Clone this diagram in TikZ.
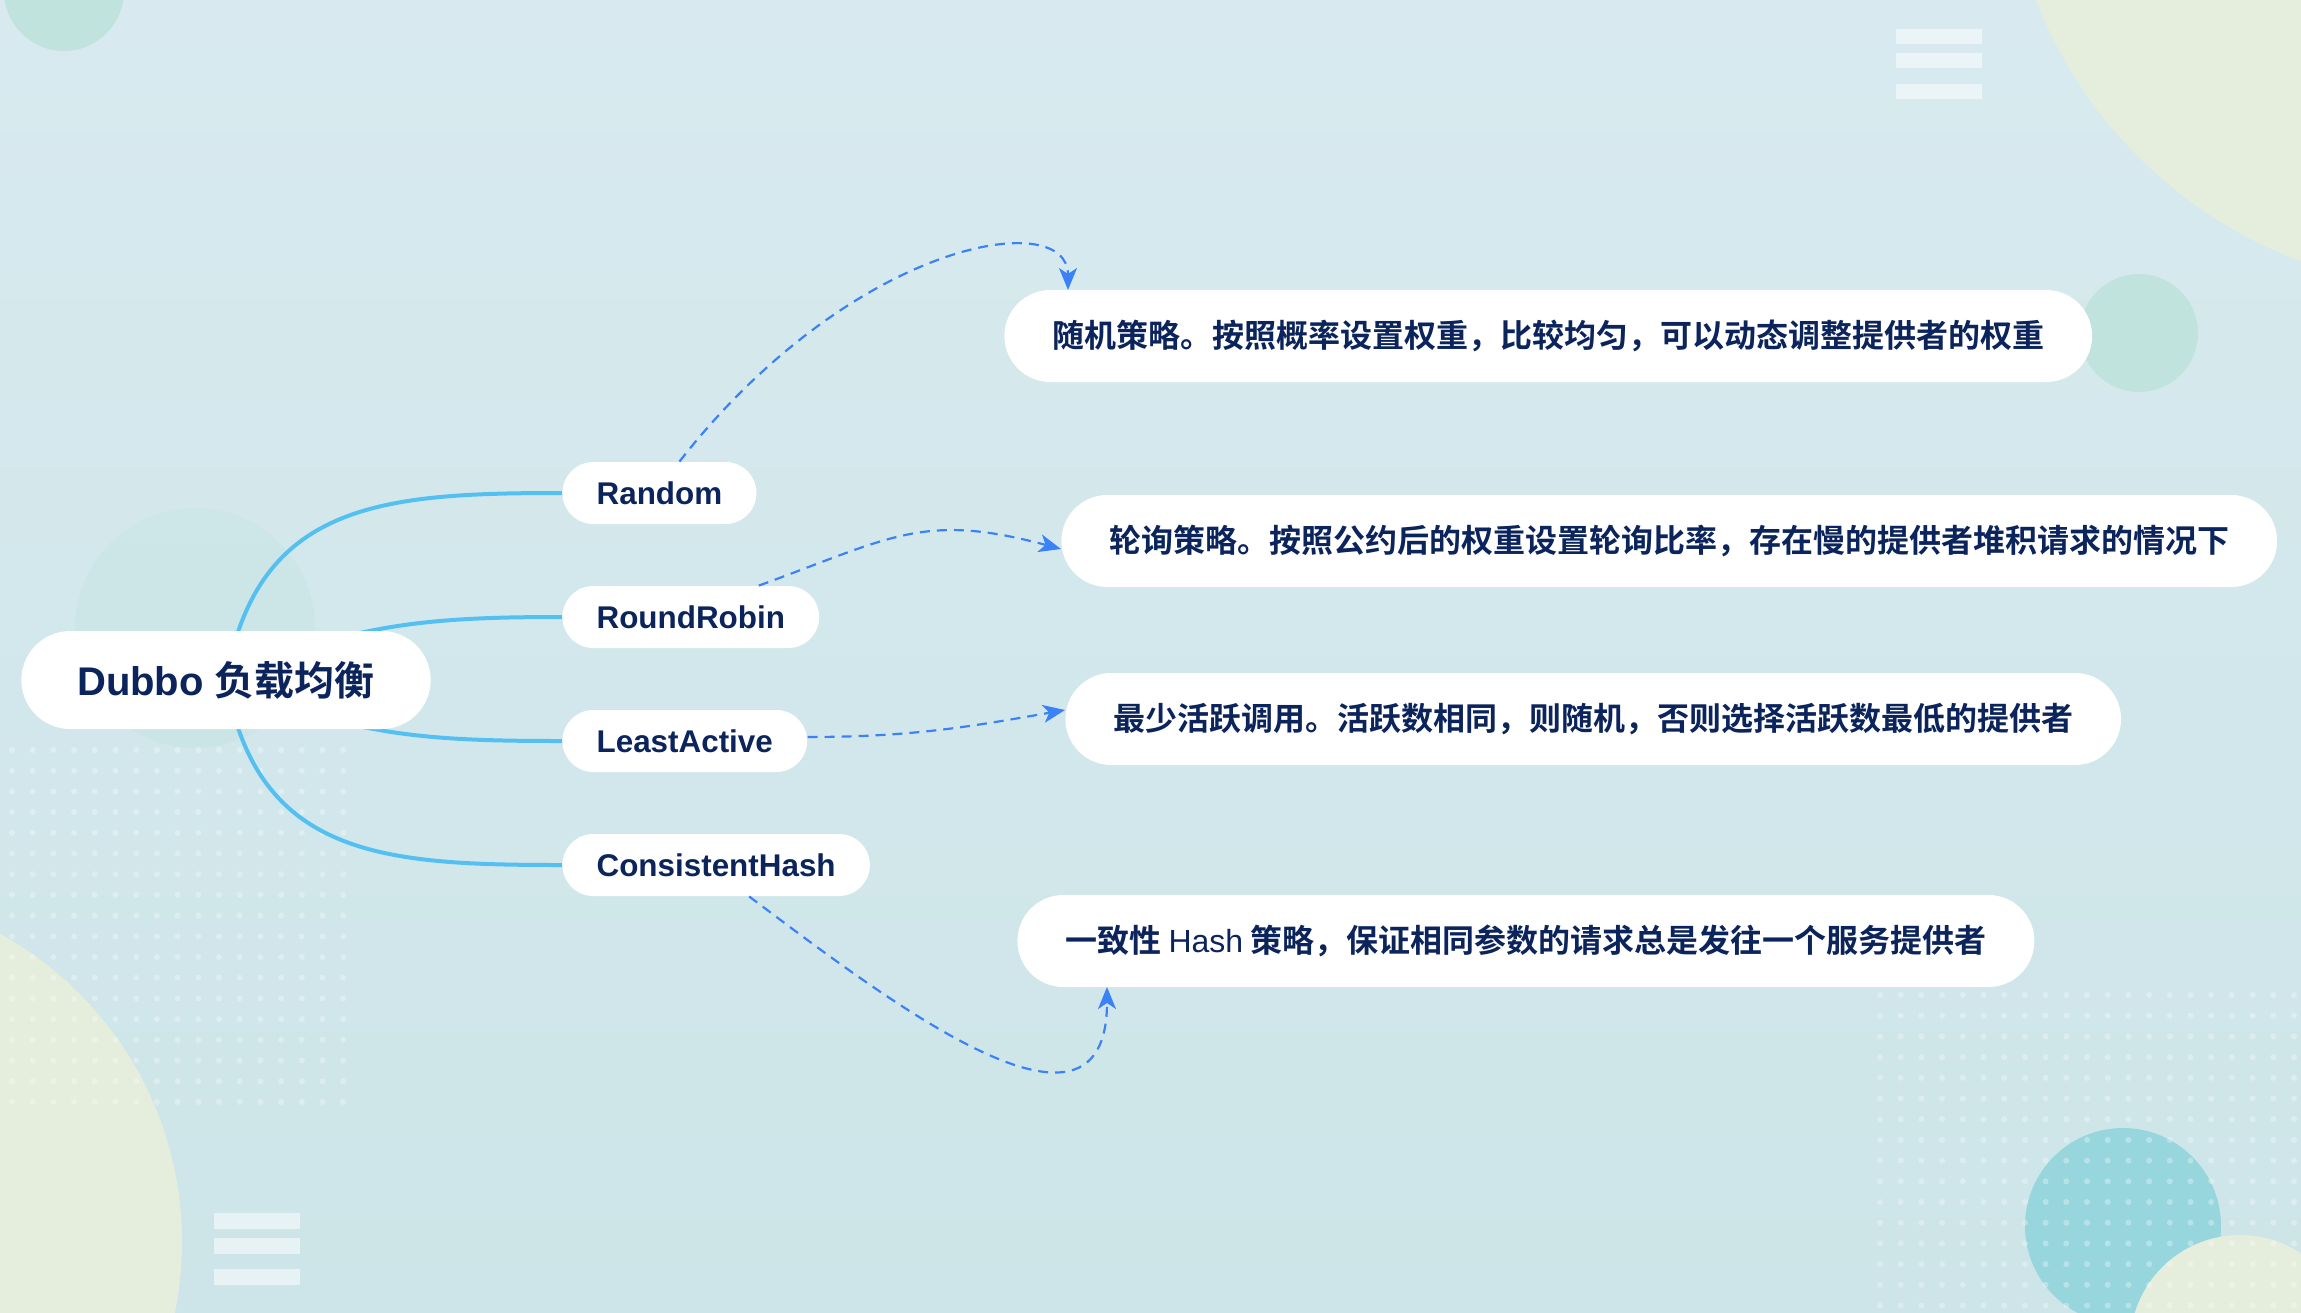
\documentclass[tikz,border=0pt]{standalone}
\usepackage{fontspec}
\usepackage{xcolor}
\usepackage{tikz}
\usetikzlibrary{shapes.misc, positioning, arrows.meta, calc}
\newfontfamily\latfont{Liberation Sans}
\newfontfamily\cjkfont{Noto Sans CJK SC}[BoldFont={Noto Sans CJK SC Bold}]
\definecolor{inkblue}{RGB}{12,36,92}
\definecolor{skyline}{RGB}{84,192,242}
\definecolor{dashblue}{RGB}{59,130,246}
\definecolor{mint}{RGB}{192,227,222}
\definecolor{cream}{RGB}{229,237,221}
\definecolor{teal}{RGB}{152,214,222}
\definecolor{bgtop}{RGB}{216,234,239}
\definecolor{bgbot}{RGB}{205,229,232}
\pgfdeclarelayer{back}
\pgfsetlayers{back,main}

\begin{document}
\begin{tikzpicture}[x=0.5pt, y=-0.5pt,
                     root/.style={rounded rectangle,
                         fill=white, text=inkblue,
                         minimum height=49pt, inner xsep=26pt,
                         font=\latfont\bfseries\fontsize{20}{24}\selectfont},
                     leaf/.style={rounded rectangle,
                         fill=white, text=inkblue,
                         minimum height=31pt, inner xsep=16pt,
                         font=\latfont\bfseries\fontsize{15.7}{19}\selectfont},
                     desc/.style={rounded rectangle,
                         fill=white, text=inkblue,
                         minimum height=46pt, inner xsep=22.5pt,
                         font=\cjkfont\bfseries\fontsize{16}{19}\selectfont},
                     stem/.style={draw=skyline, line width=2pt},
                     hint/.style={draw=dashblue, line width=1.1pt,
                         dash pattern=on 5pt off 3.5pt,
                         -{Stealth[length=11pt, width=9pt, inset=3pt]}}]
    \useasboundingbox (0,0) rectangle (2301,1312);
    \begin{pgfonlayer}{back}
    \begin{scope}
        \clip (0,0) rectangle (2301,1312);
        \shade[top color=bgtop, bottom color=bgbot] (0,0) rectangle (2301,1312);
        \fill[mint] (64,-9) circle[radius=60];
        \fill[cream] (2460,-165) circle[radius=455];
        \fill[mint] (2139,333) circle[radius=59];
        \fill[mint, opacity=.35] (195,628) circle[radius=120];
        \fill[cream] (-170,1242) circle[radius=352];
        \fill[teal] (2123,1226) circle[radius=98];
        \fill[cream] (2240,1345) circle[radius=110];
        \foreach \i in {0,...,16}
            \foreach \j in {0,...,17}
                \fill[white, opacity=.3] ({12+20.7*\i}, {750+20.7*\j}) circle[radius=3];
        \foreach \i in {0,...,20}
            \foreach \j in {0,...,15}
                \fill[white, opacity=.3] ({1880+20.7*\i}, {995+20.7*\j}) circle[radius=3];
        \foreach \y in {29,53,84}
            \fill[white, opacity=.5] (1896,\y) rectangle (1982,{\y+15});
        \foreach \y in {1213,1238,1269}
            \fill[white, opacity=.5] (214,\y) rectangle (300,{\y+16});
    \end{scope}
    \end{pgfonlayer}

    \node[root] (root) at (226,680) {Dubbo {\cjkfont 负载均衡}};
    \node[leaf, anchor=west] (rnd) at (562,493) {Random};
    \node[leaf, below=62pt of rnd.west, anchor=west] (rr) {RoundRobin};
    \node[leaf, below=62pt of rr.west, anchor=west] (la) {LeastActive};
    \node[leaf, below=62pt of la.west, anchor=west] (ch) {ConsistentHash};
    \node[desc, anchor=west] (d1) at (1004,336) {随机策略。按照概率设置权重，比较均匀，可以动态调整提供者的权重};
    \node[desc, anchor=west] (d2) at (1061,541) {轮询策略。按照公约后的权重设置轮询比率，存在慢的提供者堆积请求的情况下};
    \node[desc, anchor=west] (d3) at (1065,719) {最少活跃调用。活跃数相同，则随机，否则选择活跃数最低的提供者};
    \node[desc, anchor=west] (d4) at (1017,941) {一致性 {\latfont\mdseries Hash} 策略，保证相同参数的请求总是发往一个服务提供者};

    \begin{pgfonlayer}{back}
    \foreach \v / \a / \l in {rnd/80/1.2, rr/25/1, la/-25/1, ch/-80/1.2}
        \draw[stem] (root.center) to[out=\a, in=180, looseness=\l] (\v.west);
    \end{pgfonlayer}

    \draw[hint] ([xshift=10pt]rnd.north) to[out=52, in=90, out distance=140pt, in distance=42pt] ($(d1.west)+(64,-46)$);
    \draw[hint] ($(rr.north)+(68,0)$) to[out=20, in=165, looseness=1.2] ([yshift=-4pt]d2.west);
    \draw[hint] ([yshift=2pt]la.east) to[out=0, in=190] ([yshift=4.5pt]d3.west);
    \draw[hint] ($(ch.south)+(33,0)$) to[out=-37, in=-90, looseness=1.25] ($(d4.west)+(90,46)$);
\end{tikzpicture}
\end{document}
